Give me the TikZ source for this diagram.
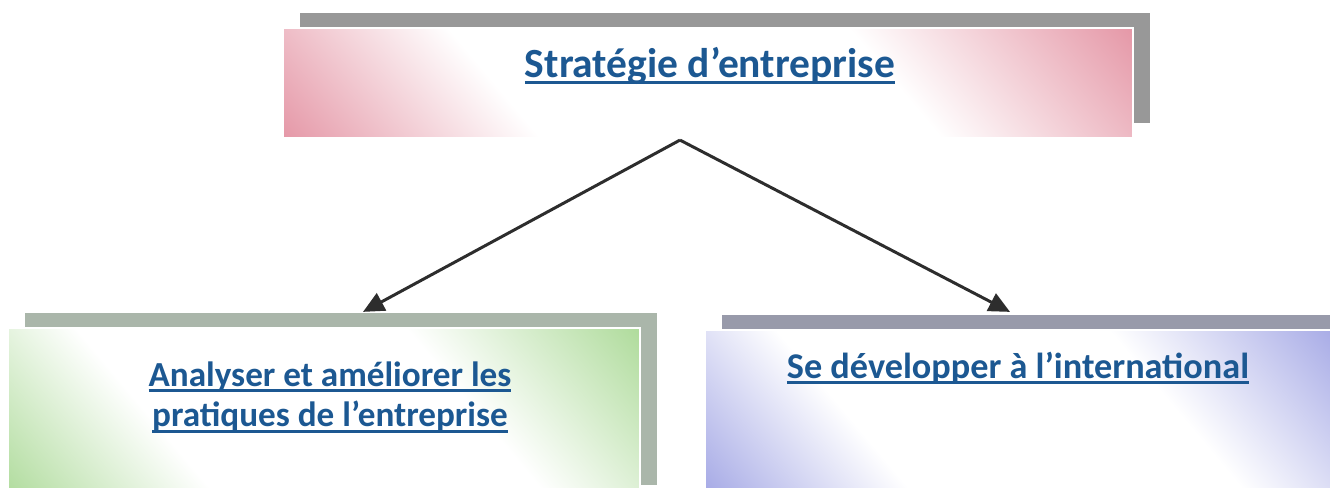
\documentclass[tikz,border=0pt]{standalone}
\usepackage{fontspec}
\setmainfont{Carlito}
\usetikzlibrary{arrows.meta,shadows}
\definecolor{bleutexte}{RGB}{28,88,146}
\definecolor{rose}{RGB}{228,148,164}
\definecolor{vert}{RGB}{172,218,152}
\definecolor{mauve}{RGB}{160,164,228}
\definecolor{ombregrise}{RGB}{152,152,152}
\definecolor{ombreverte}{RGB}{170,182,170}
\definecolor{ombrebleue}{RGB}{152,154,170}
\definecolor{fleche}{RGB}{45,45,45}
\colorlet{couleur}{white}
\pgfdeclareverticalshading[couleur]{bande}{100bp}{color(0bp)=(couleur); color(14bp)=(couleur);
    color(34bp)=(white); color(64bp)=(white); color(86bp)=(couleur); color(100bp)=(couleur)}
\newcommand\souligne[1]{\setbox0\hbox{#1}\rlap{\rule[-1.8pt]{\wd0}{0.85pt}}\box0}
\tikzset{
    boite/.style 2 args={rectangle, inner sep=0pt, draw=white, line width=0.6pt,
        /utils/exec={\colorlet{couleur}{#1}}, shading=bande, shading angle=-50,
        drop shadow={shadow xshift=0.17cm, shadow yshift=0.15cm, fill=#2, opacity=1}},
    titre/.style={text=bleutexte, font=\bfseries\fontsize{#1}{11.4}\selectfont},
    lien/.style={draw=fleche, line width=0.85pt, -{Triangle[length=6pt,width=5.5pt]}}
}

\begin{document}
\begin{tikzpicture}[x=0.01cm, y=-0.01cm]
    \useasboundingbox (0,0) rectangle (1330,488);
    \node[boite={rose}{ombregrise}, minimum width=8.5cm, minimum height=1.1cm] (strat) at (708,83) {};
    \node[boite={vert}{ombreverte}, minimum width=6.32cm, minimum height=1.72cm] (analyse) at (324,414) {};
    \node[boite={mauve}{ombrebleue}, minimum width=6.4cm, minimum height=1.7cm] (inter) at (1025,415) {};
    \node[titre=11.8, anchor=base] (stratT) at (710,78) {\souligne{Stratégie d’entreprise}};
    \node[titre=10, align=center] (analyseT) at (330,397) {\souligne{Analyser et améliorer les}\\\souligne{pratiques de l’entreprise}};
    \node[titre=10.3, anchor=base] (interT) at (1018,378) {\souligne{Se développer à l’international}};
    \coordinate (sommet) at ([shift={(-28,1)}]strat.south);
    \draw[lien] (sommet) -- ([shift={(39,-15)}]analyse.north);
    \draw[lien] (sommet) -- ([shift={(-15,-17)}]inter.north);
\end{tikzpicture}
\end{document}
